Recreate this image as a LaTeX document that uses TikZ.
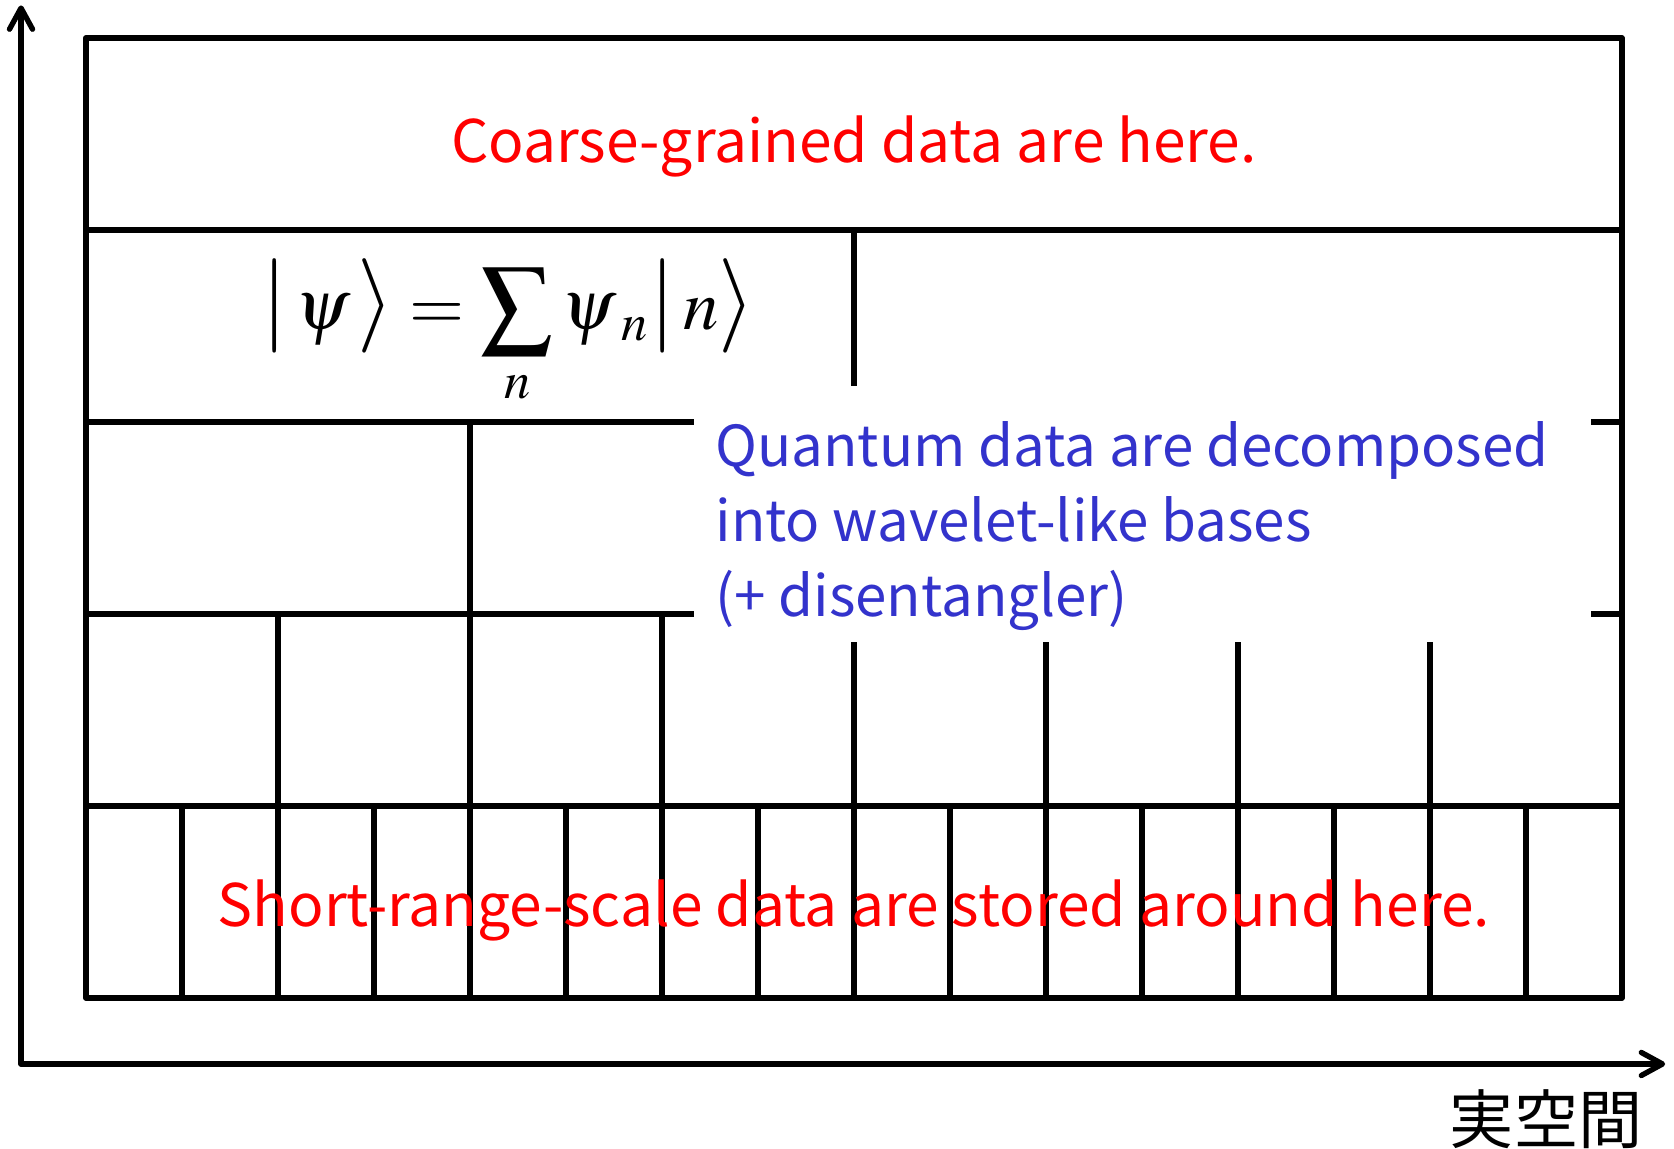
\documentclass[tikz,border=0pt]{standalone}
\usepackage{mathptmx}
\usepackage{fontspec}
\setmainfont{Noto Sans CJK JP}
\usetikzlibrary{arrows.meta,calc}
\definecolor{qblue}{RGB}{51,51,204}
\newcommand{\bigdel}[1]{\mbox{\fontsize{28}{30}\selectfont$#1$}}
\tikzset{
  grid/.style={line width=1.6pt,line cap=round,line join=round},
  axis/.style={line width=1.6pt,line cap=round,-{Straight Barb[length=2.2mm,width=2.4mm,round]}},
  redtxt/.style={text=red,inner sep=0pt,font=\fontsize{17.4}{20}\selectfont},
  bluetxt/.style={text=qblue,inner sep=0pt,anchor=base west,font=\fontsize{16.75}{20}\selectfont}
}
\begin{document}
\begin{tikzpicture}
\useasboundingbox(-0.896,-1.573)rectangle(16.542,10.396);
\coordinate(orig)at(-0.677,-0.6875);\coordinate(ytop)at(-0.677,10.34);\coordinate(xend)at(16.45,-0.6875);
\draw[axis](orig)--(ytop);\draw[axis](orig)--(xend);
% levels of the hierarchy
\foreach \y in {0,2,...,10}\draw[grid](0,\y)--(16,\y);
\draw[grid](0,0)--(0,10);\draw[grid](16,0)--(16,10);
\foreach \x in {1,...,15}\draw[grid](\x,0)--(\x,2);
\foreach \x in {2,4,...,14}\draw[grid](\x,2)--(\x,4);
\foreach \x in {4,8,12}\draw[grid](\x,4)--(\x,6);
\draw[grid](8,6)--(8,8);
\fill[white](6.33,3.71)rectangle(15.68,6.37);
\node[redtxt,anchor=base](coarse)at(8,8.70){Coarse-grained data are here.};
\node(psi)at(4.4,6.93){\fontsize{21}{25}\selectfont$\displaystyle\bigdel{|}\,\psi\,\bigdel{\rangle}=\sum_n\psi_{\;n}\bigdel{|}\,n\bigdel{\rangle}$};
\node[bluetxt](qa)at(6.55,5.54){Quantum data are decomposed};
\node[bluetxt](qb)at(6.55,4.75){into wavelet-like bases};
\node[bluetxt](qc)at(6.55,3.97){(+ disentangler)};
\node[redtxt,anchor=base](short)at(8,0.74){Short-range-scale data are stored around here.};
\node[inner sep=0pt,font=\fontsize{19}{21}\selectfont](space)at(15.21,-1.26){実空間};
\end{tikzpicture}
\end{document}
